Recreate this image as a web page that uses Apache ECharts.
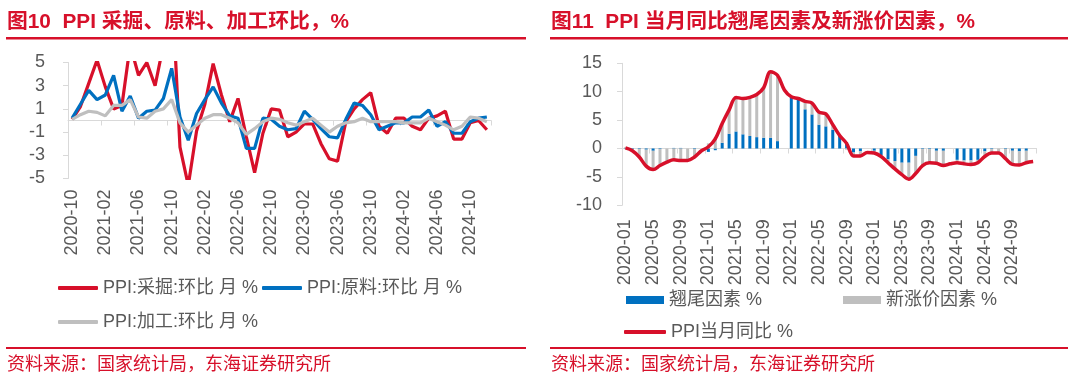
<!DOCTYPE html>
<html><head><meta charset="utf-8">
<script src="https://cdn.jsdelivr.net/npm/echarts@6/dist/echarts.min.js"></script>
<style>html,body{margin:0;padding:0;background:#fff}#c{width:1074px;height:385px}</style>
</head><body><div id="c"></div>
<script>
// ---- Left chart data (PPI MoM by sector, %) ----
const monthsL = ['2020-10','2020-11','2020-12','2021-01','2021-02','2021-03','2021-04','2021-05','2021-06','2021-07','2021-08','2021-09','2021-10','2021-11','2021-12','2022-01','2022-02','2022-03','2022-04','2022-05','2022-06','2022-07','2022-08','2022-09','2022-10','2022-11','2022-12','2023-01','2023-02','2023-03','2023-04','2023-05','2023-06','2023-07','2023-08','2023-09','2023-10','2023-11','2023-12','2024-01','2024-02','2024-03','2024-04','2024-05','2024-06','2024-07','2024-08','2024-09','2024-10','2024-11','2024-12'];
const miningMoM = [0.1,1.2,3.2,5.2,2.9,1.0,1.3,6.5,3.9,5.0,3.0,6.5,12.0,-2.3,-5.6,-0.9,1.4,4.9,2.2,-0.1,1.9,-1.4,-4.5,-1.1,1.0,0.9,-1.4,-1.0,-0.3,-0.3,-2.0,-3.3,-3.5,-0.1,1.0,1.8,2.4,-0.5,-1.1,0.2,0.2,-0.5,-0.8,0.2,0.4,0.8,-1.6,-1.6,-0.2,0.0,-0.8];
const rawMoM = [0.2,1.4,2.6,1.8,2.2,3.9,0.8,2.1,0.2,0.8,0.9,1.9,4.5,0.3,-1.7,0.6,1.8,2.9,1.5,0.4,0.2,-2.4,-2.4,0.2,0.1,-0.5,-0.8,-0.7,0.8,0.1,-0.7,-1.4,-1.5,0.1,1.5,1.3,0.5,-0.8,-0.5,-0.2,-0.2,0.3,0.3,0.9,-0.5,-0.1,-1.1,-1.1,-0.1,0.2,0.3];
const procMoM = [0.1,0.5,0.8,0.7,0.4,1.3,1.3,1.8,0.3,0.2,0.8,1.0,1.8,-0.2,-1.0,-0.4,0.2,0.5,0.5,0.2,-0.2,-1.2,-0.7,-0.1,0.2,0.1,-0.2,-0.4,-0.1,0.2,-0.4,-1.0,-0.5,-0.2,-0.1,0.2,-0.1,-0.1,-0.1,-0.1,-0.2,-0.2,-0.2,0.2,-0.1,-0.4,-0.8,-0.5,0.3,0.2,-0.1];

// ---- Right chart data (PPI YoY decomposition, %) ----
const monthsR = ['2020-01','2020-02','2020-03','2020-04','2020-05','2020-06','2020-07','2020-08','2020-09','2020-10','2020-11','2020-12','2021-01','2021-02','2021-03','2021-04','2021-05','2021-06','2021-07','2021-08','2021-09','2021-10','2021-11','2021-12','2022-01','2022-02','2022-03','2022-04','2022-05','2022-06','2022-07','2022-08','2022-09','2022-10','2022-11','2022-12','2023-01','2023-02','2023-03','2023-04','2023-05','2023-06','2023-07','2023-08','2023-09','2023-10','2023-11','2023-12','2024-01','2024-02','2024-03','2024-04','2024-05','2024-06','2024-07','2024-08','2024-09','2024-10','2024-11','2024-12'];
const carryover = [-0.1,-0.1,-0.1,-0.2,-0.4,-0.1,0.0,0.1,0.1,0.0,-0.1,null,
  -0.6,-0.3,1.0,2.6,3.0,2.5,2.2,2.0,1.9,1.9,1.3,null,
  8.9,8.6,6.9,6.0,4.2,3.9,3.3,2.2,1.1,-0.7,-0.5,null,
  -0.4,-1.2,-1.9,-2.2,-2.5,-2.5,-1.3,-0.1,-0.1,-0.4,-0.4,null,
  -2.0,-2.1,-2.1,-2.0,-0.5,-0.1,0.0,-0.1,-0.4,-0.5,-0.4,null];
const newPrice = [0.2,-0.3,-1.4,-2.9,-3.3,-2.9,-2.4,-2.1,-2.2,-2.1,-1.4,null,
  0.9,2.0,3.4,4.2,6.0,6.3,6.8,7.5,8.8,11.6,11.6,null,
  0.2,0.2,1.4,2.0,2.2,2.2,0.9,0.1,-0.2,-0.6,-0.8,null,
  -0.4,-0.2,-0.6,-1.4,-2.1,-2.9,-3.1,-2.9,-2.4,-2.2,-2.6,null,
  -0.5,-0.6,-0.7,-0.5,-0.9,-0.7,-0.8,-1.7,-2.4,-2.4,-2.1,null];
const ppiYoY = [0.1,-0.4,-1.5,-3.1,-3.7,-3.0,-2.4,-2.0,-2.1,-2.1,-1.5,-0.4,
  0.3,1.7,4.4,6.8,9.0,8.8,9.0,9.5,10.7,13.5,12.9,10.3,
  9.1,8.8,8.3,8.0,6.4,6.1,4.2,2.3,0.9,-1.3,-1.3,-0.7,
  -0.8,-1.4,-2.5,-3.6,-4.6,-5.4,-4.4,-3.0,-2.5,-2.6,-3.0,-2.7,
  -2.5,-2.7,-2.8,-2.5,-1.4,-0.8,-0.8,-1.8,-2.8,-2.9,-2.5,-2.3];

const RED = '#D7102A', BLUE = '#0070C0', GRAY = '#BFBFBF', AX = '#D9D9D9', TXT = '#595959';
const FONT = '"Liberation Sans","Noto Sans CJK SC",sans-serif';
const lbl = {color: TXT, fontSize: 18, fontFamily: FONT};

const chart = echarts.init(document.getElementById('c'), null, {renderer: 'canvas'});
function catAxes(grid, data, margin) {
  return [
    {type:'category', gridIndex:grid, data:data, boundaryGap:true,
     axisLine:{show:true, onZero:true, lineStyle:{color:AX, width:1}},
     axisTick:{show:true, interval:3, length:5, lineStyle:{color:AX}},
     axisLabel:{show:false}, splitLine:{show:false}},
    {type:'category', gridIndex:grid, data:data, boundaryGap:true, position:'bottom',
     axisLine:{show:false, onZero:false}, axisTick:{show:false}, splitLine:{show:false},
     axisLabel:Object.assign({interval:3, rotate:90, margin:margin}, lbl)}
  ];
}
function valAxis(grid, min, max, interval, margin) {
  return {type:'value', gridIndex:grid, min:min, max:max, interval:interval,
    axisLine:{show:true, lineStyle:{color:AX}}, axisTick:{show:true, length:5, lineStyle:{color:AX}},
    splitLine:{show:false}, axisLabel:Object.assign({margin:margin}, lbl)};
}
const legText = {color: TXT, fontSize: 18, fontFamily: FONT};
function leg(name, left, top, icon, w, h) {
  return {data:[name], left:left, top:top, icon:icon, itemWidth:w, itemHeight:h, padding:0,
    selectedMode:false, textStyle:legText};
}
const option = {
  animation:false,
  backgroundColor:'#fff',
  grid:[
    {left:68, top:62.5, width:423, height:116, containLabel:false},
    {left:622, top:63.3, width:414.6, height:142, containLabel:false}
  ],
  xAxis: catAxes(0, monthsL, 11).concat(catAxes(1, monthsR, 14)),
  yAxis: [valAxis(0, -5, 5, 2, 23), valAxis(1, -10, 15, 5, 20)],
  legend: [
    leg('PPI:采掘:环比 月 %', 58, 279, 'roundRect', 40, 4),
    leg('PPI:原料:环比 月 %', 262, 279, 'roundRect', 40, 4),
    leg('PPI:加工:环比 月 %', 58, 313, 'roundRect', 40, 4),
    leg('翘尾因素 %', 626, 291, 'rect', 38, 8),
    leg('新涨价因素 %', 843, 291, 'rect', 38, 8),
    leg('PPI当月同比 %', 624, 323, 'roundRect', 42, 4)
  ],
  series: [
    {name:'PPI:采掘:环比 月 %', type:'line', xAxisIndex:0, yAxisIndex:0, data:miningMoM, symbol:'none',
     lineStyle:{color:RED, width:3.2}, itemStyle:{color:RED}},
    {name:'PPI:原料:环比 月 %', type:'line', xAxisIndex:0, yAxisIndex:0, data:rawMoM, symbol:'none',
     lineStyle:{color:BLUE, width:3.2}, itemStyle:{color:BLUE}},
    {name:'PPI:加工:环比 月 %', type:'line', xAxisIndex:0, yAxisIndex:0, data:procMoM, symbol:'none',
     lineStyle:{color:GRAY, width:3.2}, itemStyle:{color:GRAY}},
    {name:'翘尾因素 %', type:'bar', xAxisIndex:2, yAxisIndex:1, data:carryover, stack:'f', barWidth:3,
     itemStyle:{color:BLUE}},
    {name:'新涨价因素 %', type:'bar', xAxisIndex:2, yAxisIndex:1, data:newPrice, stack:'f', barWidth:3,
     itemStyle:{color:GRAY}},
    {name:'PPI当月同比 %', type:'line', xAxisIndex:2, yAxisIndex:1, data:ppiYoY, symbol:'none', smooth:0.35,
     lineStyle:{color:RED, width:3.5}, itemStyle:{color:RED}, z:5}
  ],
  graphic: [
    {type:'text', style:{x:7, y:22, text:'图10  PPI 采掘、原料、加工环比，%', fill:RED, font:'bold 20.8px '+FONT, verticalAlign:'middle'}},
    {type:'rect', shape:{x:6, y:37, width:520, height:2.5}, style:{fill:RED}},
    {type:'text', style:{x:551, y:22, text:'图11  PPI 当月同比翘尾因素及新涨价因素，%', fill:RED, font:'bold 20.8px '+FONT, verticalAlign:'middle'}},
    {type:'rect', shape:{x:550, y:37, width:518, height:2.5}, style:{fill:RED}},
    {type:'rect', shape:{x:6, y:347, width:520, height:2}, style:{fill:RED}},
    {type:'rect', shape:{x:550, y:347, width:518, height:2}, style:{fill:RED}},
    {type:'text', style:{x:7, y:365, text:'资料来源：国家统计局，东海证券研究所', fill:RED, font:'18px '+FONT, verticalAlign:'middle'}},
    {type:'text', style:{x:551, y:365, text:'资料来源：国家统计局，东海证券研究所', fill:RED, font:'18px '+FONT, verticalAlign:'middle'}}
  ]
};
chart.setOption(option);
</script></body></html>
